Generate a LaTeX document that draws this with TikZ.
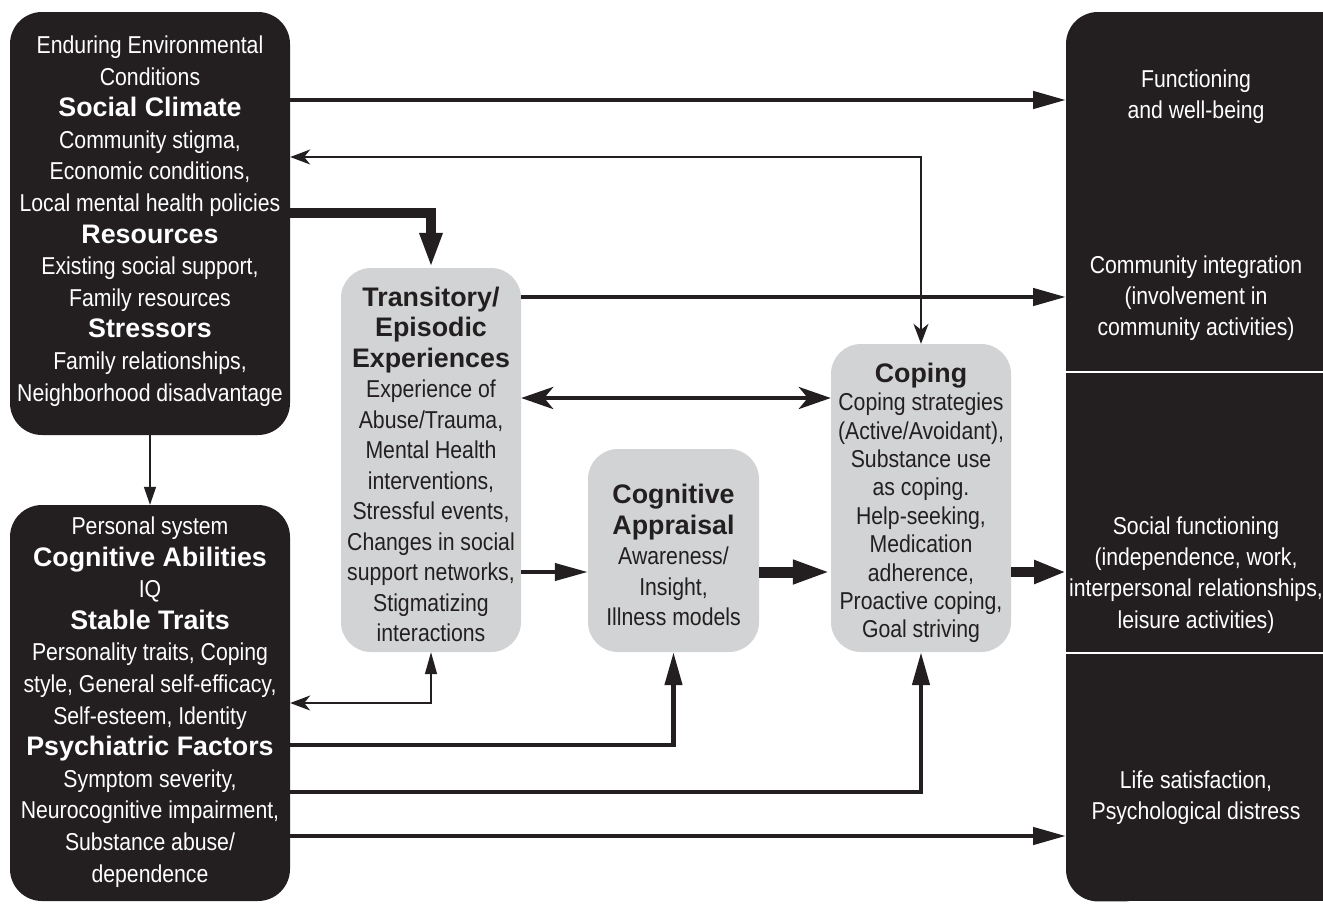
\documentclass[tikz,border=0pt]{standalone}
\usepackage{fontspec}
\usetikzlibrary{arrows.meta,calc}
\newfontfamily\nar{Liberation Sans}[FakeStretch=0.87]
\newfontfamily\wid{Liberation Sans}
\definecolor{ink}{HTML}{231F20}
\definecolor{pale}{HTML}{D1D3D4}
\newcommand\hd[1]{{\fontsize{26.8}{31.6}\selectfont\wid\bfseries #1}}
\begin{document}
\begin{tikzpicture}[x=1pt,y=-1pt,
  blackbox/.style={fill=ink, rounded corners=32pt, inner sep=0pt},
  graybox/.style={fill=pale, rounded corners=30pt, inner sep=0pt},
  wtxt/.style={text=white, align=center, inner sep=0pt, font=\fontsize{24.4}{31.6}\selectfont\nar},
  dtxt/.style={text=ink, align=center, inner sep=0pt, font=\fontsize{24.4}{30.5}\selectfont\nar},
  otxt/.style={text=white, align=center, inner sep=0pt, font=\fontsize{24.4}{31.3}\selectfont\nar},
  thinline/.style={draw=ink, line width=1.6pt},
  midline/.style={draw=ink, line width=4.5pt},
  fatline/.style={draw=ink, line width=10pt},
  bigtri/.style={-{Triangle[length=33pt,width=17pt]}},
]
\useasboundingbox (0,0) rectangle (1323,903);

% boxes
\node[blackbox, minimum width=280pt, minimum height=423pt] (env) at (150,223.5) {};
\node[blackbox, minimum width=280pt, minimum height=396pt] (pers) at (150,703) {};
\node[graybox, minimum width=180pt, minimum height=384pt] (trans) at (431,460) {};
\node[graybox, minimum width=171pt, minimum height=203pt] (cog) at (673.5,550.5) {};
\node[graybox, minimum width=180pt, minimum height=308pt] (coping) at (921,498) {};
\node[inner sep=0pt, minimum width=257pt, minimum height=889pt, anchor=north west] (outbox) at (1066,12) {};
\fill[ink, rounded corners=32pt] (outbox.north west) rectangle ([xshift=90pt]outbox.south west);
\fill[ink] ([xshift=45pt]outbox.north west) rectangle (outbox.south east);
\draw[white, line width=2pt] (outbox.west |- 0,372) -- (outbox.east |- 0,372);
\draw[white, line width=2pt] (outbox.west |- 0,653) -- (outbox.east |- 0,653);

% texts
\node[wtxt] (envt) at (150,221) {Enduring Environmental\\Conditions\\\hd{Social Climate}\\Community stigma,\\Economic conditions,\\Local mental health policies\\\hd{Resources}\\Existing social support,\\Family resources\\\hd{Stressors}\\Family relationships,\\Neighborhood disadvantage};
\node[wtxt] (perst) at (150,702) {Personal system\\\hd{Cognitive Abilities}\\IQ\\\hd{Stable Traits}\\Personality traits, Coping\\style, General self-efficacy,\\Self-esteem, Identity\\\hd{Psychiatric Factors}\\Symptom severity,\\Neurocognitive impairment,\\Substance abuse/\\dependence};
\node[dtxt] (transt) at (431,464.5) {\hd{Transitory/}\\\hd{Episodic}\\\hd{Experiences}\\Experience of\\Abuse/Trauma,\\Mental Health\\interventions,\\Stressful events,\\Changes in social\\support networks,\\Stigmatizing\\interactions};
\node[dtxt] (cogt) at (673.5,555) {\hd{Cognitive}\\\hd{Appraisal}\\Awareness/\\Insight,\\Illness models};
\node[dtxt, font=\fontsize{24.4}{28.4}\selectfont\nar] (copingt) at (921,503) {\hd{Coping}\\Coping strategies\\(Active/Avoidant),\\Substance use\\as coping.\\Help-seeking,\\Medication\\adherence,\\Proactive coping,\\Goal striving};
\node[otxt] (o1) at (1196,97) {Functioning\\and well-being};
\node[otxt] (o2) at (1196,298) {Community integration\\(involvement in\\community activities)};
\node[otxt] (o3) at (1196,575) {Social functioning\\(independence, work,\\interpersonal relationships,\\leisure activities)};
\node[otxt] (o4) at (1196,798) {Life satisfaction,\\Psychological distress};

% connectors
\draw[midline, bigtri] (env.east |- 0,100) -- (outbox.west |- 0,100);
\draw[thinline, {Stealth[length=20pt,width=15pt,inset=6pt]}-{Stealth[length=20pt,width=15pt,inset=6pt]}] (env.east |- 0,157) -| (coping.north);
\draw[fatline, -{Triangle[length=35pt,width=21pt]}] (env.east |- 0,213) -| (trans.north);
\draw[thinline, -{Triangle[length=18pt,width=12pt]}] (env.south) -- (pers.north);
\draw[midline, bigtri] (trans.east |- 0,297) -- (outbox.west |- 0,297);
\draw[midline, {Stealth[length=32pt,width=22pt,inset=9pt]}-{Stealth[length=32pt,width=22pt,inset=9pt]}] (trans.east |- 0,398) -- (coping.west |- 0,398);
\draw[line width=4pt, draw=ink, -{Triangle[length=33pt,width=17pt]}] (trans.east |- 0,572) -- (cog.west |- 0,572);
\draw[line width=11pt, draw=ink, -{Triangle[length=38pt,width=22pt]}] (cog.east |- 0,572) -- (coping.west |- 0,572);
\draw[line width=10pt, draw=ink, -{Triangle[length=32pt,width=22pt]}] (coping.east |- 0,572) -- (outbox.west |- 0,572);
\draw[thinline, {Stealth[length=20pt,width=15pt,inset=6pt]}-{Triangle[length=22pt,width=12pt]}] (pers.east |- 0,703) -| (trans.south);
\draw[midline, bigtri] (pers.east |- 0,745) -| (cog.south);
\draw[midline, bigtri] (pers.east |- 0,792) -| (coping.south);
\draw[midline, bigtri] (pers.east |- 0,836) -- (outbox.west |- 0,836);
\end{tikzpicture}
\end{document}
